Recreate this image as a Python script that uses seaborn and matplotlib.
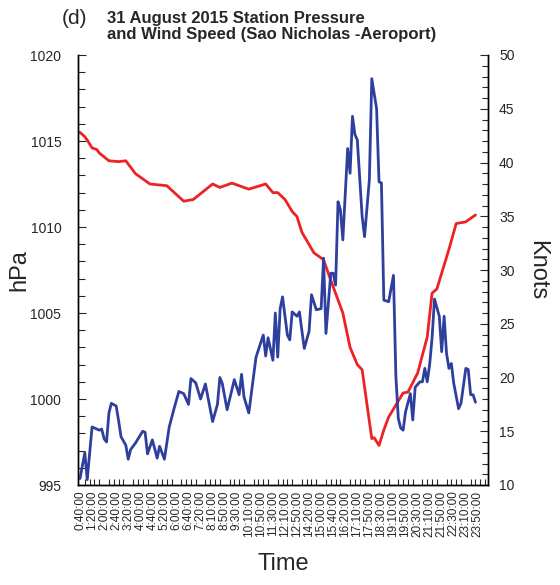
import numpy as np
import pandas as pd
import seaborn as sns
import matplotlib
matplotlib.use("Agg")
import matplotlib.pyplot as plt
from matplotlib.ticker import MultipleLocator

# observation number along the (irregular) time axis, labels every 5 samples
tick_times = ["0:40:00", "1:20:00", "2:00:00", "2:40:00", "3:20:00", "4:00:00",
              "4:40:00", "5:20:00", "6:00:00", "6:40:00", "7:20:00", "8:10:00",
              "8:50:00", "9:30:00", "10:10:00", "10:50:00", "11:30:00", "12:10:00",
              "12:50:00", "14:20:00", "15:00:00", "15:40:00", "16:20:00", "17:10:00",
              "17:50:00", "18:30:00", "19:10:00", "19:50:00", "20:30:00", "21:10:00",
              "21:50:00", "22:30:00", "23:10:00", "23:50:00"]

# station pressure (hPa)
pres_obs = [0, 2, 3, 5, 7, 8, 12, 16, 19, 23, 29, 36, 43, 47, 55, 58, 63, 70, 77,
            80, 82, 85, 88, 90, 92, 97, 101, 104, 109, 112, 115, 117, 121, 122,
            124, 126, 128, 134, 136, 140, 144, 146, 148, 153, 156, 160, 164]
pres_hpa = [1015.5, 1015.25, 1015.05, 1014.6, 1014.5, 1014.3, 1013.85, 1013.8,
            1013.85, 1013.1, 1012.5, 1012.4, 1011.5, 1011.6, 1012.5, 1012.3,
            1012.55, 1012.2, 1012.5, 1012.0, 1012.0, 1011.6, 1010.9, 1010.6,
            1009.7, 1008.5, 1008.1, 1006.9, 1005.0, 1003.0, 1002.0, 1001.7,
            997.7, 997.75, 997.3, 998.2, 998.95, 1000.35, 1000.4, 1001.5,
            1003.6, 1006.15, 1006.4, 1008.7, 1010.2, 1010.3, 1010.7]

# wind speed (knots)
wind_obs = [0, 2, 3, 5, 8, 9, 10, 11, 12, 13, 15, 16, 17, 19, 20, 21, 23, 26, 27,
            28, 30, 32, 33, 35, 37, 39, 41, 43, 45, 46, 48, 50, 52, 55, 57, 58,
            59, 61, 64, 66, 67, 68, 70, 73, 76, 77, 78, 80, 81, 82, 83, 84, 86,
            87, 88, 90, 91, 93, 95, 96, 98, 100, 101, 102, 104, 105, 106, 107,
            108, 109, 111, 112, 113, 114, 115, 117, 118, 120, 121, 123, 124, 125,
            126, 128, 130, 131, 132, 133, 134, 135, 137, 138, 139, 141, 142, 143,
            144, 145, 146, 147, 149, 150, 151, 152, 153, 154, 155, 157, 158, 160,
            161, 162, 163, 164]
wind_kt = [10.6, 13.0, 10.5, 15.4, 15.1, 15.2, 14.3, 14.0, 16.7, 17.6, 17.35, 16.0,
           14.5, 13.7, 12.4, 13.3, 13.9, 15.0, 14.9, 12.9, 14.2, 12.5, 13.6, 12.4,
           15.4, 17.1, 18.7, 18.5, 17.5, 19.9, 19.5, 18.0, 19.4, 15.9, 17.5, 20.0,
           19.45, 17.0, 19.8, 18.4, 20.3, 18.2, 16.7, 21.9, 23.95, 22.0, 23.7,
           21.6, 26.0, 21.9, 26.4, 27.5, 23.95, 23.5, 26.1, 25.7, 26.1, 22.7, 24.3,
           27.7, 26.3, 26.4, 31.1, 24.1, 29.7, 29.7, 28.6, 36.35, 35.6, 32.8,
           41.3, 39.0, 44.3, 42.6, 42.1, 35.0, 33.1, 38.4, 47.8, 45.0, 38.2, 38.1,
           27.2, 27.05, 29.5, 20.1, 16.2, 15.3, 15.1, 16.8, 18.5, 16.05, 19.1,
           19.6, 19.6, 20.85, 19.6, 21.2, 23.65, 27.3, 25.7, 22.4, 25.7, 22.25,
           20.85, 21.3, 19.45, 17.1, 17.6, 20.85, 20.75, 18.4, 18.4, 17.7]

pres = pd.DataFrame({"obs": pres_obs, "hPa": pres_hpa})
wind = pd.DataFrame({"obs": wind_obs, "knots": wind_kt})

sns.set_style("ticks")
plt.rcParams["font.family"] = ["Liberation Sans", "DejaVu Sans"]
plt.rcParams["xtick.direction"] = "in"
plt.rcParams["ytick.direction"] = "in"

fig = plt.figure(figsize=(5.6, 5.85), dpi=100)
ax = fig.add_axes([78 / 560, 1 - 485 / 585, 410 / 560, 430 / 585])
ax2 = ax.twinx()

sns.lineplot(data=pres, x="obs", y="hPa", ax=ax, color="#ec2224", lw=2.0)
sns.lineplot(data=wind, x="obs", y="knots", ax=ax2, color="#2f3f9e", lw=2.0)

ax.set_xlim(-0.83, 169.2)
ax.set_ylim(995, 1020)
ax2.set_ylim(10, 50)

ax.set_xticks(np.arange(len(tick_times)) * 5)
ax.set_xticklabels(tick_times, rotation=90, fontsize=8.5)
ax.xaxis.set_minor_locator(MultipleLocator(2))
ax.tick_params(axis="x", which="major", length=0, pad=4)
ax.tick_params(axis="x", which="minor", length=4, width=0.8)

ax.yaxis.set_major_locator(MultipleLocator(5))
ax.yaxis.set_minor_locator(MultipleLocator(1))
ax.tick_params(axis="y", which="major", length=6, width=0.8, labelsize=10, pad=12)
ax.tick_params(axis="y", which="minor", length=5, width=0.8)

ax2.yaxis.set_major_locator(MultipleLocator(5))
ax2.yaxis.set_minor_locator(MultipleLocator(1))
ax2.tick_params(axis="y", which="major", length=6, width=0.8, labelsize=10, pad=8)
ax2.tick_params(axis="y", which="minor", length=4, width=0.8)

for a in (ax, ax2):
    a.spines["top"].set_visible(False)
    for s in ("left", "right", "bottom"):
        a.spines[s].set_linewidth(1.0)
        a.spines[s].set_color("black")

ax.set_xlabel("Time", fontsize=17, labelpad=12)
ax.set_ylabel("hPa", fontsize=17, labelpad=0)
ax2.set_ylabel("Knots", fontsize=17, rotation=-90, labelpad=24)

fig.text(62 / 560, 1 - 19 / 585, "(d)", fontsize=15, va="center", ha="left")
fig.text(107 / 560, 1 - 11 / 585,
         "31 August 2015 Station Pressure\nand Wind Speed (Sao Nicholas -Aeroport)",
         fontsize=12, fontweight="bold", va="top", ha="left", linespacing=1.1)

fig.savefig("out.png", dpi=100)
